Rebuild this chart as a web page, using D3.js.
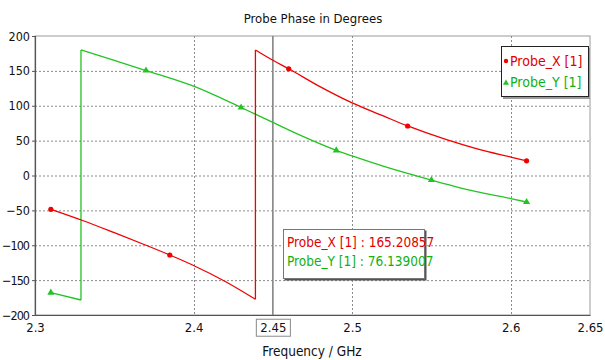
<!DOCTYPE html>
<html>
<head>
<meta charset="utf-8">
<script src="https://cdn.jsdelivr.net/npm/d3@7"></script>
<style>
  html, body { margin: 0; padding: 0; background: #fff; }
  svg text { font-family: "DejaVu Sans Condensed", "DejaVu Sans", sans-serif; }
</style>
</head>
<body>
<div id="chart"></div>
<script>
// values
const probeXFreq = [2.31, 2.33, 2.35, 2.37, 2.385, 2.40, 2.42, 2.439, 2.439, 2.45, 2.46, 2.48, 2.50, 2.52, 2.535, 2.56, 2.58, 2.60, 2.61];
const probeXPhase = [-48.5, -64.5, -82, -100, -114, -129, -152, -177.5, 180, 165.2, 153, 127, 104, 85, 71, 51, 37.5, 26.5, 21];
const probeYFreq = [2.31, 2.329, 2.329, 2.35, 2.37, 2.40, 2.43, 2.45, 2.47, 2.49, 2.50, 2.52, 2.55, 2.58, 2.60, 2.61];
const probeYPhase = [-168, -178.5, 180, 165, 150.5, 128, 97.5, 76.1, 55, 36, 28, 13, -6.5, -24, -33, -38];

// symbol positions on each curve
const probeXMarkFreq = [2.31, 2.385, 2.46, 2.535, 2.61];
const probeXMarkPhase = [-48.5, -114, 153, 71, 21];
const probeYMarkFreq = [2.31, 2.37, 2.43, 2.49, 2.55, 2.61];
const probeYMarkPhase = [-168, 150.5, 97.5, 36, -6.5, -38];

const xTicks = [2.3, 2.4, 2.45, 2.5, 2.6, 2.65];
const yTicks = [-200, -150, -100, -50, 0, 50, 100, 150, 200];
const markerFreq = 2.45;
const markerReadout = ["Probe_X [1] : 165.20857", "Probe_Y [1] : 76.139007"];
const seriesNames = ["Probe_X [1]", "Probe_Y [1]"];

const red = "#f00000", green = "#22c422";
const redText = "#e00000", greenText = "#12b012";

const width = 605, height = 360;
const x = d3.scaleLinear().domain([2.3, 2.65]).range([35, 590]);
const y = d3.scaleLinear().domain([-200, 200]).range([315, 36]);

const svg = d3.select('#chart').append('svg')
  .attr('width', width)
  .attr('height', height);

// grid
svg.append('g').selectAll('line')
  .data(yTicks.filter(d => d > -200 && d < 200))
  .enter().append('line')
  .attr('x1', x(2.3)).attr('x2', x(2.65))
  .attr('y1', d => y(d) + 0.5).attr('y2', d => y(d) + 0.5)
  .attr('stroke', '#8a8a8a').attr('stroke-width', 1).attr('stroke-dasharray', '2,2');

svg.append('g').selectAll('line')
  .data([2.4, 2.5, 2.6])
  .enter().append('line')
  .attr('x1', d => Math.round(x(d)) + 0.5).attr('x2', d => Math.round(x(d)) + 0.5)
  .attr('y1', y(200)).attr('y2', y(-200))
  .attr('stroke', '#8a8a8a').attr('stroke-width', 1).attr('stroke-dasharray', '2,2');

// frame
svg.append('rect')
  .attr('x', x(2.3)).attr('y', y(200))
  .attr('width', x(2.65) - x(2.3)).attr('height', y(-200) - y(200))
  .attr('fill', 'none').attr('stroke', '#9a9a9a').attr('stroke-width', 1);

// left & bottom axes
const yAxis = d3.axisLeft(y).tickValues(yTicks).tickSize(3).tickPadding(2);
const xAxis = d3.axisBottom(x).tickValues(xTicks).tickSize(0).tickPadding(8)
  .tickFormat(d3.format(''));

const gy = svg.append('g').attr('transform', `translate(${x(2.3)},0)`).call(yAxis);
const gx = svg.append('g').attr('transform', `translate(0,${y(-200)})`).call(xAxis);
[gy, gx].forEach(g => {
  g.select('.domain').attr('stroke', '#555').attr('stroke-width', 1.2);
  g.selectAll('.tick line').attr('stroke', '#555');
  g.selectAll('.tick text').attr('fill', '#111').style('font-size', '13px');
});
gy.selectAll('.tick text').style('font-size', '12.5px').attr('textLength', function () {
  const w = this.getComputedTextLength();
  return Math.min(w, 28);
});

// marker line at 2.45
svg.append('line')
  .attr('x1', x(markerFreq)).attr('x2', x(markerFreq))
  .attr('y1', y(200)).attr('y2', y(-200))
  .attr('stroke', '#858585').attr('stroke-width', 1.6);

// boxed tick label for the marker
const markTick = gx.selectAll('.tick').filter(d => d === markerFreq);
const bb = markTick.select('text').node().getBBox();
markTick.insert('rect', 'text')
  .attr('x', bb.x - 4).attr('y', bb.y - 1)
  .attr('width', bb.width + 8).attr('height', bb.height + 2)
  .attr('fill', '#fff').attr('stroke', '#8a8a8a');

// curves: split at the phase wrap, smooth each piece, join with a vertical jump
function drawSeries(freq, phase, color) {
  const pts = d3.zip(freq, phase);
  const pieces = [[pts[0]]];
  for (let i = 1; i < pts.length; i++) {
    if (pts[i][0] === pts[i - 1][0]) {
      svg.append('line')
        .attr('x1', x(pts[i][0])).attr('x2', x(pts[i][0]))
        .attr('y1', y(pts[i - 1][1])).attr('y2', y(pts[i][1]))
        .attr('stroke', color).attr('stroke-width', 1.3);
      pieces.push([]);
    }
    pieces[pieces.length - 1].push(pts[i]);
  }
  const line = d3.line()
    .x(d => x(d[0]))
    .y(d => y(d[1]))
    .curve(d3.curveMonotoneX);
  svg.append('g').selectAll('path')
    .data(pieces)
    .enter().append('path')
    .attr('d', line)
    .attr('fill', 'none').attr('stroke', color).attr('stroke-width', 1.3);
}
drawSeries(probeYFreq, probeYPhase, green);
drawSeries(probeXFreq, probeXPhase, red);

// symbols
svg.append('g').selectAll('circle')
  .data(d3.zip(probeXMarkFreq, probeXMarkPhase))
  .enter().append('circle')
  .attr('cx', d => x(d[0])).attr('cy', d => y(d[1]))
  .attr('r', 2.6).attr('fill', red);

svg.append('g').selectAll('path')
  .data(d3.zip(probeYMarkFreq, probeYMarkPhase))
  .enter().append('path')
  .attr('d', d3.symbol(d3.symbolTriangle, 22))
  .attr('transform', d => `translate(${x(d[0])},${y(d[1])})`)
  .attr('fill', green);

// legend
const legend = svg.append('g').attr('transform', 'translate(501,46)');
legend.append('rect').attr('x', 2).attr('y', 2).attr('width', 87).attr('height', 51).attr('fill', '#9a9a9a');
legend.append('rect').attr('x', 0.5).attr('y', 0.5).attr('width', 87).attr('height', 50)
  .attr('fill', '#fff').attr('stroke', '#222').attr('stroke-width', 1);
legend.append('circle').attr('cx', 5).attr('cy', 15).attr('r', 2.2).attr('fill', red);
legend.append('path').attr('d', d3.symbol(d3.symbolTriangle, 16))
  .attr('transform', 'translate(5,37)').attr('fill', green);
legend.selectAll('text.lg')
  .data(seriesNames)
  .enter().append('text')
  .attr('x', 9).attr('y', (d, i) => 20 + i * 21)
  .attr('fill', (d, i) => i === 0 ? redText : greenText)
  .style('font-size', '14px')
  .text(d => d);

// marker readout box
const readout = svg.append('g').attr('transform', 'translate(283,229)');
readout.append('rect').attr('x', 1.5).attr('y', 1.5).attr('width', 142).attr('height', 50).attr('fill', '#555');
readout.append('rect').attr('x', 0.5).attr('y', 0.5).attr('width', 141).attr('height', 49)
  .attr('fill', '#fff').attr('stroke', '#777').attr('stroke-width', 1);
readout.selectAll('text')
  .data(markerReadout)
  .enter().append('text')
  .attr('x', 4).attr('y', (d, i) => 18 + i * 19)
  .attr('fill', (d, i) => i === 0 ? redText : greenText)
  .style('font-size', '13.5px')
  .text(d => d);

// titles
svg.append('text')
  .attr('x', 313).attr('y', 23).attr('text-anchor', 'middle')
  .attr('fill', '#111').style('font-size', '13px')
  .text('Probe Phase in Degrees');

svg.append('text')
  .attr('x', 312).attr('y', 356).attr('text-anchor', 'middle')
  .attr('fill', '#111').style('font-size', '13.5px')
  .text('Frequency / GHz');
</script>
</body>
</html>
